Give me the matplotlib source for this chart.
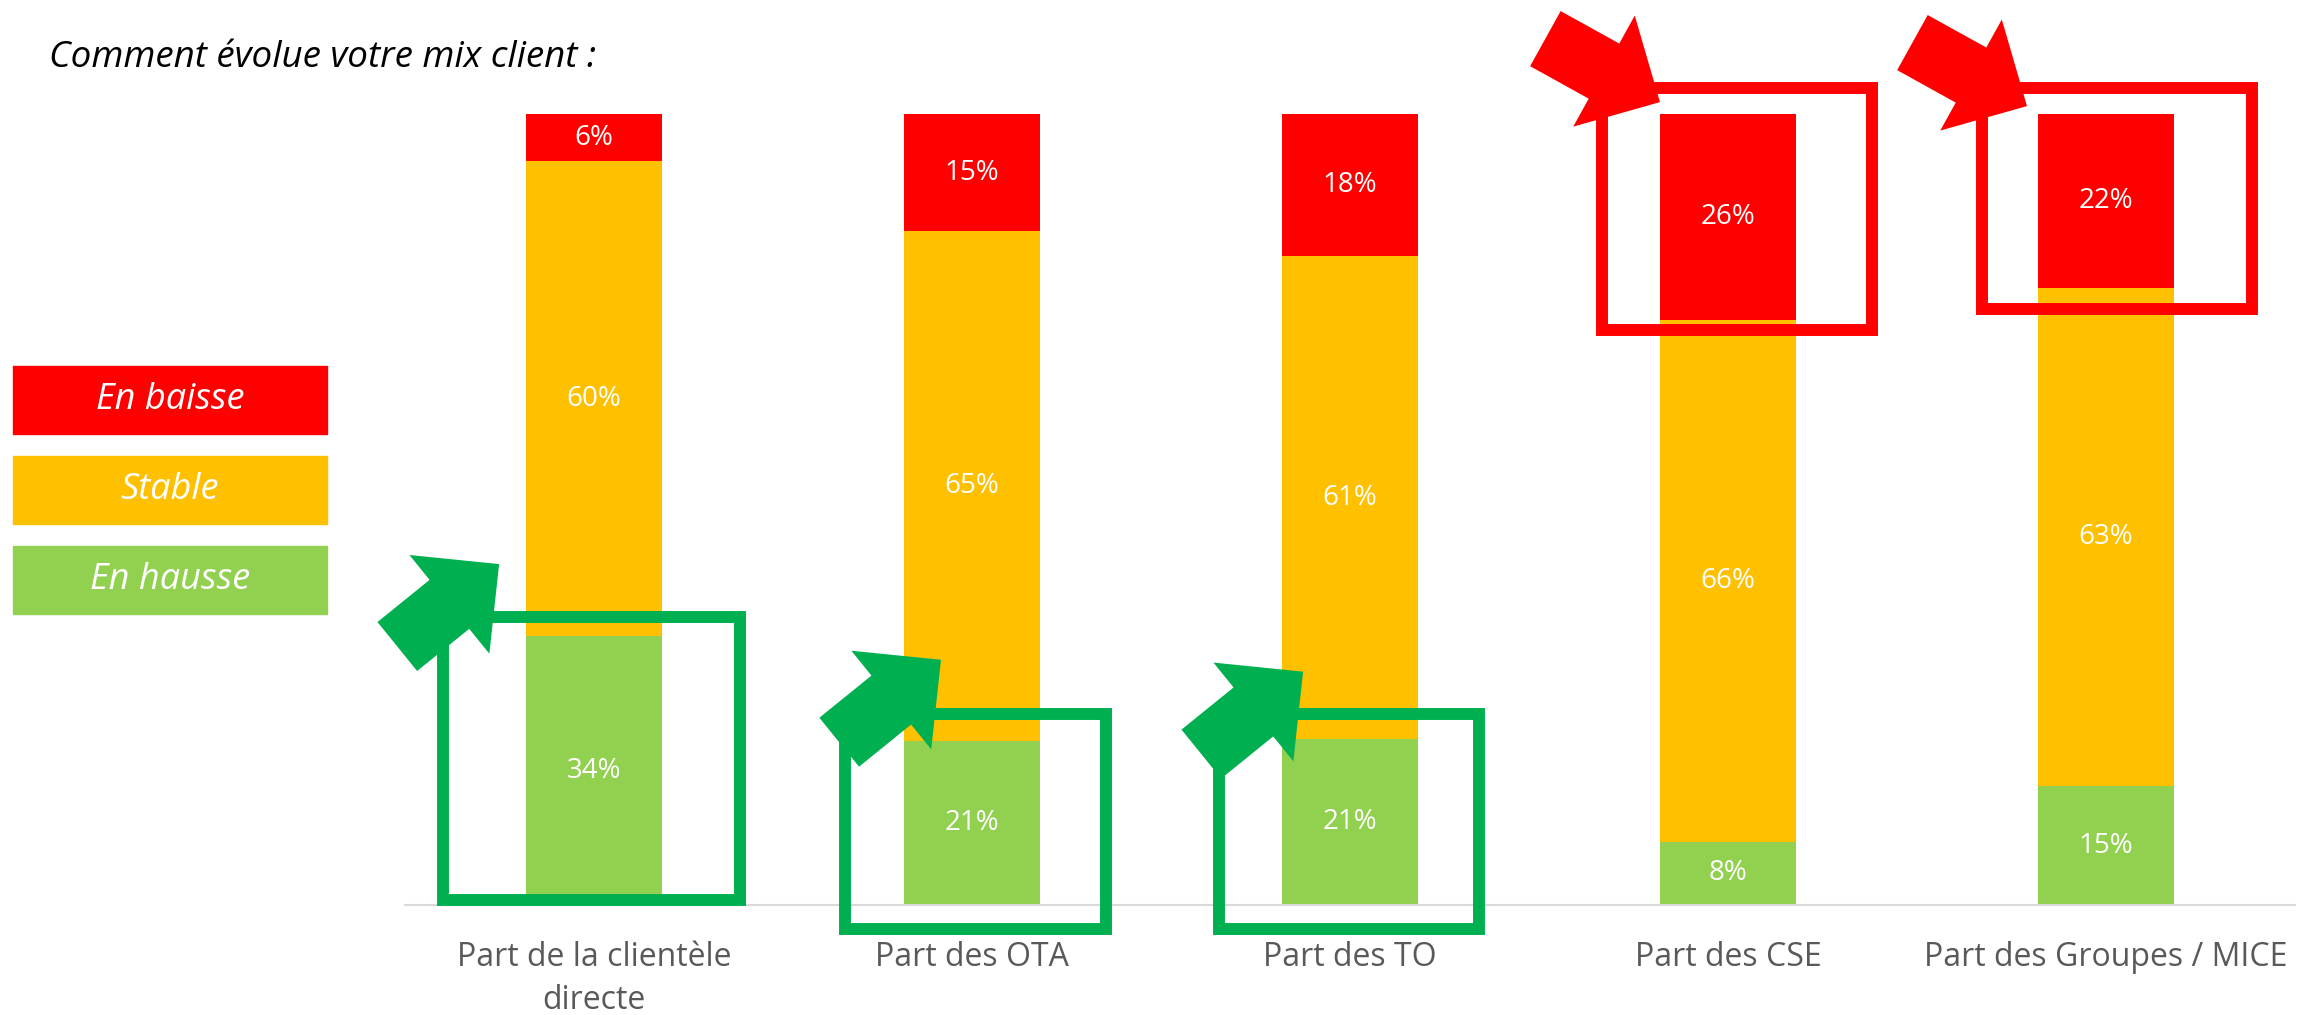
import numpy as np
import matplotlib
matplotlib.use("Agg")
import matplotlib.pyplot as plt
from matplotlib.patches import Rectangle, FancyArrow
from matplotlib.transforms import IdentityTransform

# data (answers in %)
categories = ["Part de la clientèle\ndirecte", "Part des OTA", "Part des TO",
              "Part des CSE", "Part des Groupes / MICE"]
en_hausse = [34, 21, 21, 8, 15]
stable = [60, 65, 61, 66, 63]
en_baisse = [6, 15, 18, 26, 22]

series_names = ["En hausse", "Stable", "En baisse"]
series_colors = ["#92D050", "#FFC000", "#FF0000"]

plt.rcParams['font.family'] = ['Open Sans', 'DejaVu Sans']

W, H = 2306, 1015
fig = plt.figure(figsize=(W / 100, H / 100), dpi=100)
ax = fig.add_axes([405 / W, 1 - 905 / H, 1890 / W, 791 / H])

x = np.arange(len(categories))
series = np.array([en_hausse, stable, en_baisse], dtype=float)
shares = series / series.sum(axis=0)   # 100% stacked

bottom = np.zeros(len(categories))
for vals, share, color in zip(series, shares, series_colors):
    ax.bar(x, share, bottom=bottom, width=0.36, color=color, zorder=2)
    for xi, v, s, b in zip(x, vals, share, bottom):
        ax.text(xi, b + s / 2, f"{v:.0f}%", ha='center', va='center',
                color='white', fontsize=20, zorder=3)
    bottom += share

ax.set_xlim(-0.5, len(categories) - 0.5)
ax.set_ylim(0, 1)
ax.set_yticks([])
for s in ['top', 'right', 'left']:
    ax.spines[s].set_visible(False)
ax.spines['bottom'].set_color('#D9D9D9')
ax.spines['bottom'].set_linewidth(1.5)
ax.set_xticks(x)
ax.set_xticklabels(categories, fontsize=23, color='#595959', linespacing=1.4)
ax.tick_params(axis='x', length=0, pad=26)

# highlight boxes around the bars (bar index, x0, x1, y0, y1 in data units)
green_boxes = [(0, -0.40, 0.386, 0.006, 0.364),
               (1, -0.336, 0.354, -0.030, 0.241),
               (2, -0.347, 0.341, -0.030, 0.241)]
red_boxes = [(3, -0.333, 0.381, 0.727, 1.033),
             (4, -0.327, 0.385, 0.753, 1.033)]
for boxes, col in [(green_boxes, '#00B050'), (red_boxes, '#FF0000')]:
    for i, x0, x1, y0, y1 in boxes:
        ax.add_patch(Rectangle((i + x0, y0), x1 - x0, y1 - y0, fill=False,
                               edgecolor=col, linewidth=8.6, joinstyle='miter',
                               clip_on=False, zorder=4))

# block arrows pointing at the boxes (bar index, tip x offset, tip y, angle)
arrows = [(0, -0.251, 0.431, 39, '#00B050'),
          (1, -0.082, 0.310, 39, '#00B050'),
          (2, -0.124, 0.295, 39, '#00B050'),
          (3, -0.180, 1.015, -29, '#FF0000'),
          (4, -0.209, 1.010, -29, '#FF0000')]
for i, dx_tip, y_tip, ang, col in arrows:
    tx, ty = ax.transData.transform((i + dx_tip, y_tip))
    u = np.array([np.cos(np.radians(ang)), np.sin(np.radians(ang))])
    length = 131
    sx, sy = tx - length * u[0], ty - length * u[1]
    fig.add_artist(FancyArrow(sx, sy, length * u[0], length * u[1], width=63,
                              head_width=127, head_length=64,
                              length_includes_head=True, color=col,
                              linewidth=0, transform=IdentityTransform(),
                              zorder=5))

# legend on the left
for k, (name, col) in enumerate(zip(series_names[::-1], series_colors[::-1])):
    top = 366 + k * 90
    fig.patches.append(Rectangle((13 / W, 1 - (top + 68) / H), 314 / W, 68 / H,
                                 transform=fig.transFigure, color=col))
    fig.text(170 / W, 1 - (top + 34) / H, name, ha='center', va='center',
             color='white', fontsize=26, style='italic')

fig.text(49 / W, 1 - 67 / H, "Comment évolue votre mix client :",
         fontsize=26.5, style='italic', va='baseline', ha='left')

fig.savefig('out.png', dpi=100, facecolor='white')
